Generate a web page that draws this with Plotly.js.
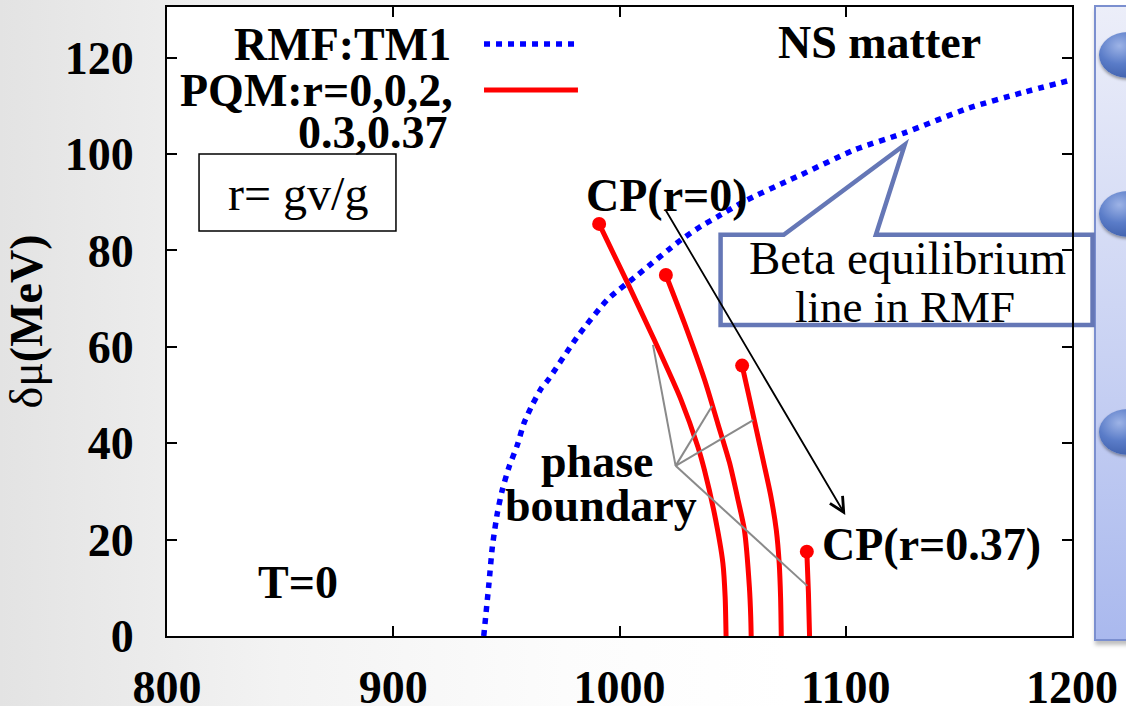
<!DOCTYPE html>
<html>
<head>
<meta charset="utf-8">
<script src="https://cdn.plot.ly/plotly-3.0.1.min.js"></script>
<style>
  html, body { margin:0; padding:0; width:1126px; height:706px; overflow:hidden;
    background: linear-gradient(to right, #e3e3e3 0%, #f3f3f3 25%, #fcfcfc 50%, #ffffff 70%); }
  #panel { position:absolute; left:1094px; top:5px; width:60px; height:636px;
    border:2px solid #7b8fcf; box-sizing:border-box;
    background: linear-gradient(to bottom, #eceef9 0%, #c9d2f3 55%, #aab9ee 100%);
    box-shadow: 1px 4px 4px rgba(0,0,0,0.25); }
  .bullet { position:absolute; left:1099px; width:58px; height:46px; border-radius:50%;
    background: radial-gradient(ellipse at 35% 30%, #9db3e6 0%, #5a7cc8 40%, #2e4d98 100%);
    box-shadow: 0 2px 3px rgba(0,0,0,0.35); }
  #chart { position:absolute; left:0; top:0; width:1126px; height:706px; }
</style>
</head>
<body>
<div id="panel"></div>
<div class="bullet" style="top:32px"></div>
<div class="bullet" style="top:191px"></div>
<div class="bullet" style="top:409px"></div>
<div id="chart"></div>
<script>
// RMF:TM1 beta-equilibrium line (mu in MeV, delta-mu in MeV)
const rmfMu  = [940, 942.3, 943.8, 946, 948.2, 951.2, 954.9, 957.8, 961.5, 965.6, 968.4, 981.4, 994.7, 1008, 1027.2, 1036, 1043.4, 1055.2, 1073.7, 1080.3, 1104, 1126, 1154.2, 1177.8, 1200];
const rmfDmu = [0, 10.9, 18.5, 25.5, 30.3, 35.1, 39.7, 44.2, 48, 51.5, 53.1, 62.1, 69.8, 74.9, 82.2, 85, 87, 90.2, 94.3, 95.7, 100.9, 104.4, 109.5, 112.7, 115.4];

// PQM phase boundaries
const pqmR0Mu   = [991.0, 1003.6, 1015.4, 1027.2, 1034.6, 1037.5, 1041.9, 1045.7, 1046.7, 1047.1];
const pqmR0Dmu  = [85.5, 73.2, 61.4, 49, 39.3, 34.5, 25.5, 15.1, 8, 0];
const pqmR02Mu  = [1020.5, 1028.7, 1037.7, 1043.5, 1048.6, 1052.5, 1055.2, 1057.4, 1058, 1058.2];
const pqmR02Dmu = [74.9, 64.9, 53, 44, 36, 28, 22, 10.2, 4, 0];
const pqmR03Mu  = [1054.2, 1057.1, 1060.4, 1063.7, 1066.9, 1069.3, 1070.6, 1071.2, 1071.5];
const pqmR03Dmu = [56.1, 50, 43, 36, 29, 22, 15, 8, 0];
const pqmR037Mu  = [1082.8, 1083.5, 1084];
const pqmR037Dmu = [17.5, 9, 0];

// critical points
const cpMu  = [991.0, 1020.5, 1054.2, 1082.8];
const cpDmu = [85.5, 74.9, 56.1, 17.5];

const xTicks = [800, 900, 1000, 1100, 1200];
const yTicks = [0, 20, 40, 60, 80, 100, 120];

const SERIF = 'Liberation Serif, Times New Roman, serif';
const red = '#ff0000';

function redLine(x, y, name) {
  return {x: x, y: y, mode: 'lines', name: name, showlegend: false,
          line: {color: red, width: 5, shape: 'spline', smoothing: 0.7}, hoverinfo: 'skip'};
}

const traces = [
  {x: rmfMu, y: rmfDmu, mode: 'lines', name: 'RMF:TM1', showlegend: false,
   line: {color: '#0000ff', width: 5.5, dash: '6px,6px', shape: 'spline', smoothing: 0.6}},
  redLine(pqmR0Mu, pqmR0Dmu, 'r=0'),
  redLine(pqmR02Mu, pqmR02Dmu, 'r=0.2'),
  redLine(pqmR03Mu, pqmR03Dmu, 'r=0.3'),
  redLine(pqmR037Mu, pqmR037Dmu, 'r=0.37'),
  {x: cpMu, y: cpDmu, mode: 'markers', name: 'CP', showlegend: false,
   marker: {color: red, size: 14}}
];

const bold = (size) => ({family: SERIF, size: size, color: '#000', weight: 'bold'});
const reg = (size) => ({family: SERIF, size: size, color: '#000'});

const annotations = [
  {text: 'RMF:TM1', x: 0.316, y: 0.941, xanchor: 'right', yanchor: 'middle', font: bold(46)},
  {text: 'PQM:r=0,0,2,', x: 0.318, y: 0.868, xanchor: 'right', yanchor: 'middle', font: bold(46)},
  {text: '0.3,0.37', x: 0.313, y: 0.800, xanchor: 'right', yanchor: 'middle', font: bold(46)},
  {text: 'NS matter', x: 0.787, y: 0.943, xanchor: 'center', yanchor: 'middle', font: bold(46)},
  {text: 'r= gv/g', x: 0.1443, y: 0.704, xanchor: 'center', yanchor: 'middle', font: reg(48)},
  {text: 'CP(r=0)', x: 0.5525, y: 0.701, xanchor: 'center', yanchor: 'middle', font: bold(46)},
  {text: 'CP(r=0.37)', x: 0.7215, y: 0.1447, xanchor: 'left', yanchor: 'middle', font: bold(46)},
  {text: 'phase', x: 0.4751, y: 0.277, xanchor: 'center', yanchor: 'middle', font: bold(46)},
  {text: 'boundary', x: 0.4796, y: 0.2067, xanchor: 'center', yanchor: 'middle', font: bold(46)},
  {text: 'T=0', x: 0.1448, y: 0.0843, xanchor: 'center', yanchor: 'middle', font: bold(46)},
  {text: 'Beta equilibrium', x: 0.8177, y: 0.601, xanchor: 'center', yanchor: 'middle', font: reg(47)},
  {text: 'line in RMF', x: 0.8155, y: 0.523, xanchor: 'center', yanchor: 'middle', font: reg(45)},
  {text: '', x: 1099.8, y: 25.1, xref: 'x', yref: 'y', ax: 1020.1, ay: 88.6, axref: 'x', ayref: 'y',
   showarrow: true, arrowhead: 5, arrowsize: 1.6, arrowwidth: 1.8, arrowcolor: '#000'}
];
annotations.forEach(a => { if (!a.xref) { a.xref = 'paper'; a.yref = 'paper'; a.showarrow = false; } });

const gray = {color: '#8a8a8a', width: 2};
const shapes = [
  // legend swatches
  {type: 'line', xref: 'paper', yref: 'paper', x0: 0.3503, x1: 0.4541, y0: 0.9412, y1: 0.9412,
   line: {color: '#0000ff', width: 5.5, dash: '6px,6px'}},
  {type: 'line', xref: 'paper', yref: 'paper', x0: 0.3503, x1: 0.4541, y0: 0.868, y1: 0.868,
   line: {color: red, width: 5}},
  // r= gv/g box
  {type: 'rect', xref: 'paper', yref: 'paper', x0: 0.0354, x1: 0.2530, y0: 0.6439, y1: 0.7663,
   line: {color: '#000', width: 1.5}, fillcolor: 'rgba(255,255,255,0)'},
  // callout box
  {type: 'path', xref: 'paper', yref: 'paper', layer: 'below',
   path: 'M0.6117,0.638 L0.6815,0.638 L0.8152,0.781 L0.7833,0.638 L1.0227,0.638 L1.0227,0.4944 L0.6117,0.4944 Z',
   line: {color: '#6577b6', width: 4.5}, fillcolor: '#ffffff'},
  // phase boundary pointers
  {type: 'line', xref: 'x', yref: 'y', x0: 1024.8, y0: 35.3, x1: 1014.8, y1: 60.4, line: gray},
  {type: 'line', xref: 'x', yref: 'y', x0: 1024.8, y0: 35.3, x1: 1040.9, y1: 47.7, line: gray},
  {type: 'line', xref: 'x', yref: 'y', x0: 1024.8, y0: 35.3, x1: 1059.1, y1: 44.8, line: gray},
  {type: 'line', xref: 'x', yref: 'y', x0: 1024.8, y0: 35.3, x1: 1083.0, y1: 10.4, line: gray}
];

const axisCommon = {
  showgrid: false, zeroline: false, showline: true, linecolor: '#000', linewidth: 2,
  mirror: 'ticks', ticks: 'inside', ticklen: 10, tickwidth: 2, tickcolor: '#000',
  tickfont: {family: SERIF, size: 46, color: '#000', weight: 'bold'}
};

const layout = {
  width: 1126, height: 706,
  margin: {l: 167, r: 54, t: 7, b: 70},
  paper_bgcolor: 'rgba(0,0,0,0)', plot_bgcolor: '#ffffff',
  showlegend: false,
  xaxis: Object.assign({}, axisCommon, {range: [800, 1200], tickvals: xTicks, ticktext: xTicks.map(String),
    ticklabelstandoff: 10}),
  yaxis: Object.assign({}, axisCommon, {range: [0, 130.5], tickvals: yTicks, ticktext: yTicks.map(String),
    ticklabelstandoff: 22,
    title: {text: 'δμ<b>(MeV)</b>', font: {family: SERIF, size: 46, color: '#000'}, standoff: 8}}),
  annotations: annotations,
  shapes: shapes
};

Plotly.newPlot('chart', traces, layout, {displayModeBar: false, staticPlot: true});
</script>
</body>
</html>
